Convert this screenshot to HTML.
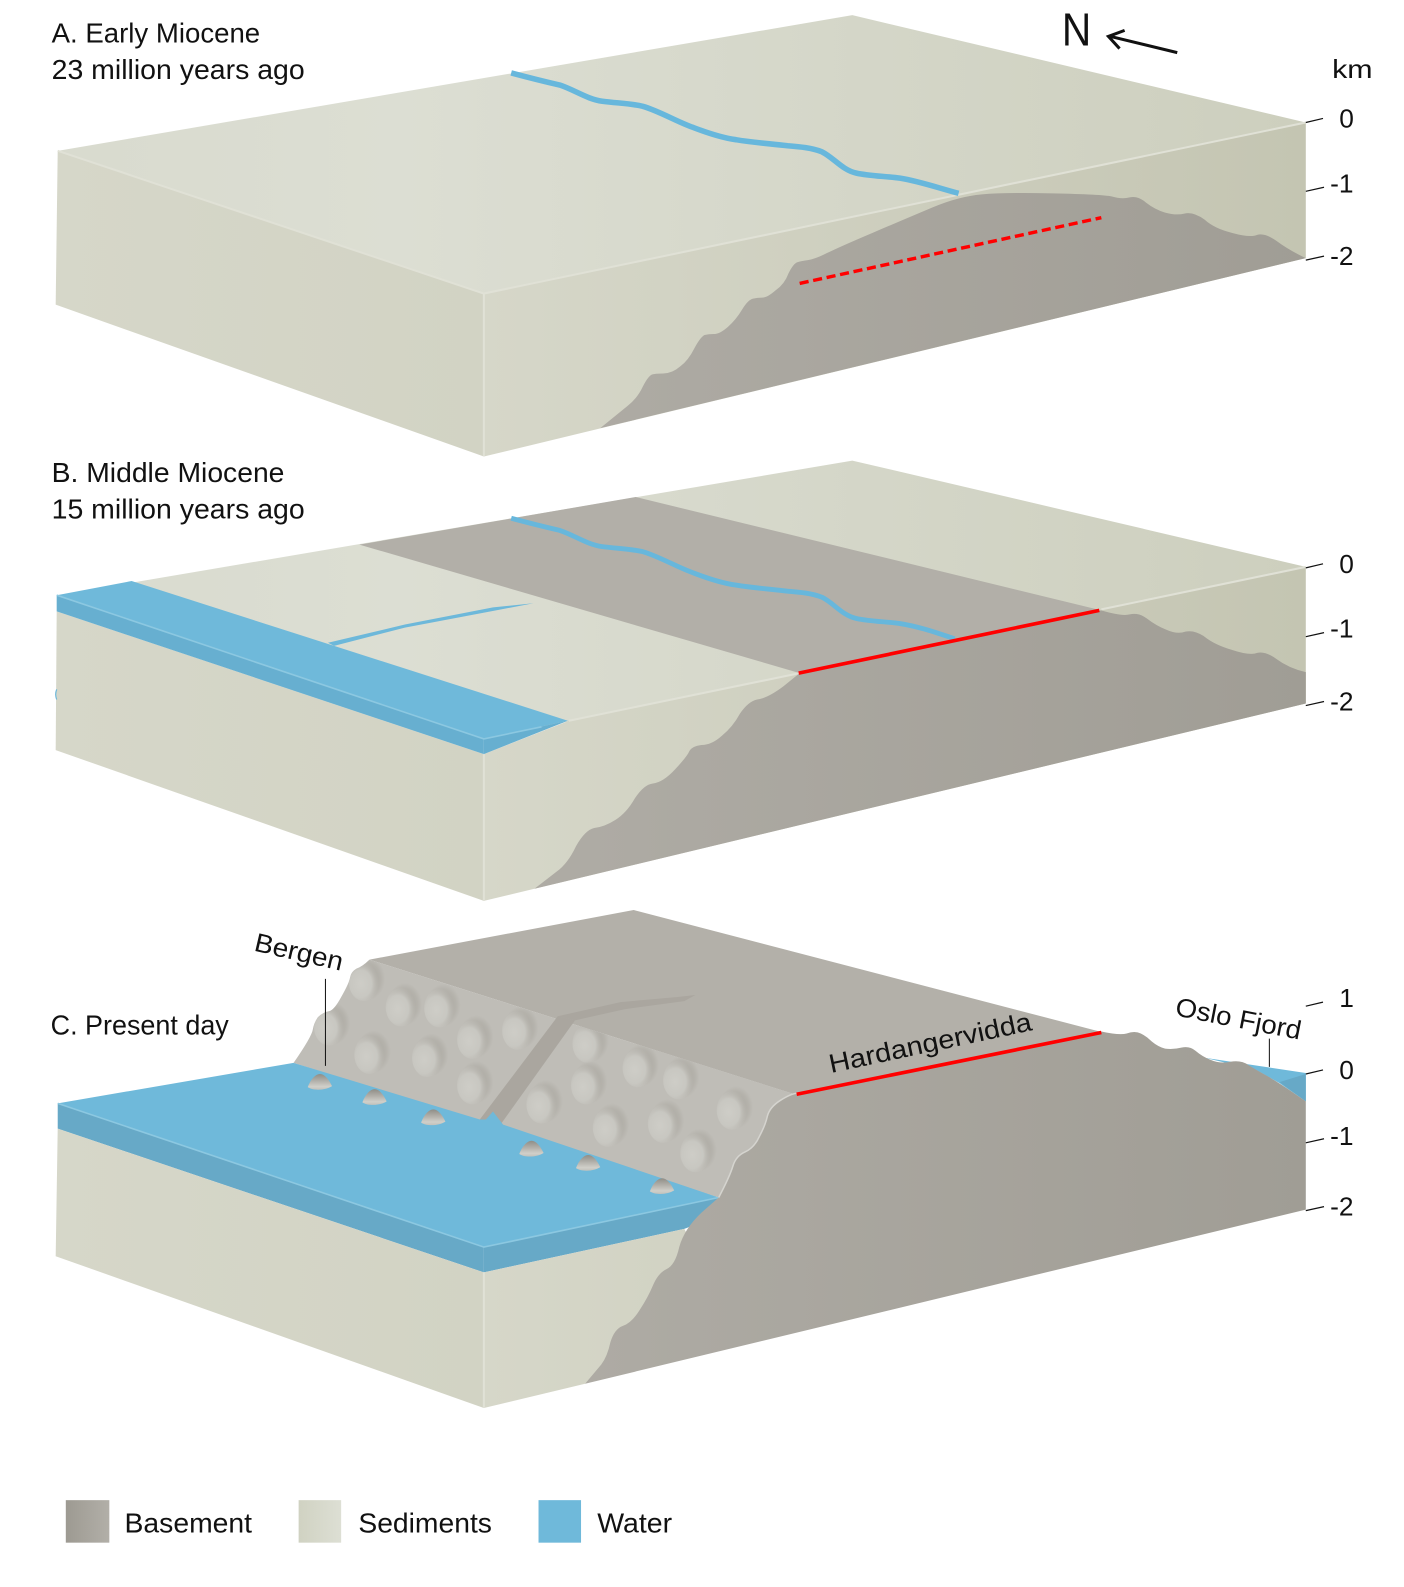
<!DOCTYPE html>
<html><head><meta charset="utf-8"><style>html,body{margin:0;padding:0;background:#fff}svg{display:block}text{font-family:"Liberation Sans",sans-serif;fill:#111}</style></head><body>
<svg xmlns="http://www.w3.org/2000/svg" width="1404" height="1587" viewBox="0 0 1387 1567.8">
<defs>
<linearGradient id="top" gradientUnits="userSpaceOnUse" x1="100" y1="0" x2="1280" y2="0"><stop offset="0" stop-color="#d9dbcf"/><stop offset=".25" stop-color="#dcded3"/><stop offset="1" stop-color="#cdcfbe"/></linearGradient>
<linearGradient id="rf" gradientUnits="userSpaceOnUse" x1="478" y1="0" x2="1290" y2="0"><stop offset="0" stop-color="#d6d7c9"/><stop offset="1" stop-color="#c4c5b2"/></linearGradient>
<linearGradient id="lf" gradientUnits="userSpaceOnUse" x1="55" y1="0" x2="478" y2="0"><stop offset="0" stop-color="#d6d7c9"/><stop offset="1" stop-color="#d2d3c4"/></linearGradient>
<linearGradient id="bs" gradientUnits="userSpaceOnUse" x1="580" y1="0" x2="1290" y2="0"><stop offset="0" stop-color="#aeaba4"/><stop offset="1" stop-color="#a09d95"/></linearGradient>
<linearGradient id="lgb" x1="0" x2="1" y1="0" y2="0"><stop offset="0" stop-color="#9d9a92"/><stop offset="1" stop-color="#b2afa8"/></linearGradient>
<linearGradient id="lgs" x1="0" x2="1" y1="0" y2="0"><stop offset="0" stop-color="#d0d2c2"/><stop offset="1" stop-color="#dddfd4"/></linearGradient>
<radialGradient id="bump" cx=".4" cy=".55" r=".6"><stop offset="0" stop-color="#cecdc7"/><stop offset=".6" stop-color="#c8c7c1"/><stop offset="1" stop-color="#bfbdb7" stop-opacity="0"/></radialGradient>
<radialGradient id="sh"><stop offset=".4" stop-color="#a3a098" stop-opacity=".6"/><stop offset=".75" stop-color="#a3a098" stop-opacity=".35"/><stop offset="1" stop-color="#a3a098" stop-opacity="0"/></radialGradient>
<linearGradient id="isl" x1="0" x2="0" y1="0" y2="1"><stop offset="0" stop-color="#8f8d86"/><stop offset=".45" stop-color="#b3b1ab"/><stop offset=".8" stop-color="#d0cfc9"/><stop offset="1" stop-color="#c2c1bb"/></linearGradient>
<clipPath id="sl"><path d="M290 1050Q308 1024 309 1017Q310 1011 314 1005Q319 1000 325 999Q330 998 337 985Q345 971 346 965Q347 960 352 957Q358 955 365 948L782 1080 800 1100 730 1170 710 1183Z"/></clipPath>
<g id="b"><ellipse rx="17" ry="21" cx="4" cy="-3" fill="url(#sh)"/><ellipse rx="15" ry="19" fill="url(#bump)"/></g>
<path id="i" d="M-12 4C-9-4-4-9 0-9 5-9 9-3 12 3 6 7-6 8-12 4Z" fill="url(#isl)"/>
</defs>

<!-- PANEL A -->
<polygon points="57,149 842,15 1290,121 478,290" fill="url(#top)"/>
<polygon points="57,149 478,290 478,451 55,301" fill="url(#lf)"/>
<polygon points="478,290 1290,121 1290,255 478,451" fill="url(#rf)"/>
<path d="M57 149L478 290L1290 121M478 290V451" fill="none" stroke="#e0e1d6" stroke-width="2"/>
<path d="M593 423L620 401Q630 393 635 382Q640 372 644 370Q647 369 655 369Q664 369 672 362Q680 356 686 344Q692 333 696 331Q700 330 705 330Q711 330 719 323Q727 316 733 306Q739 296 744 295Q748 294 753 294Q758 294 766 287Q775 281 779 270Q784 260 788 259Q791 258 798 257Q805 256 817 250Q829 244 862 230Q895 216 921 205Q947 194 970 192Q994 190 1040 191Q1089 192 1098 194Q1108 197 1116 195Q1124 193 1132 200Q1141 207 1151 210Q1162 213 1170 211Q1179 209 1190 217Q1200 226 1217 230Q1235 235 1242 232Q1250 230 1261 238Q1273 247 1290 255Z" fill="url(#bs)"/>
<path d="M505 72C520 76 540 81 553 84C568 89 580 98 595 100C610 102 622 102 635 105C652 110 668 120 685 126C698 131 712 136 727 138C745 141 762 142 778 144C790 145 802 146 812 150C824 156 832 168 846 171C860 174 875 174 889 176C908 179 928 186 947 191" fill="none" stroke="#67b7dc" stroke-width="5.5"/>
<line x1="790" y1="280" x2="1088" y2="215" stroke="#ff0000" stroke-width="3.4" stroke-dasharray="9 4.6"/>
<text x="51" y="42" font-size="27" textLength="206" lengthAdjust="spacingAndGlyphs">A. Early Miocene</text>
<text x="51" y="78" font-size="27" textLength="250" lengthAdjust="spacingAndGlyphs">23 million years ago</text>
<text x="1049" y="45" font-size="46" textLength="29" lengthAdjust="spacingAndGlyphs">N</text>
<path d="M1163 52L1097 36M1111 30L1095 36L1106 48" fill="none" stroke="#111" stroke-width="3"/>
<text x="1316" y="77" font-size="26" textLength="40" lengthAdjust="spacingAndGlyphs">km</text>
<g stroke="#111" stroke-width="1.2"><path d="M1290 121L1307 117M1290 189L1308 185M1290 257L1308 253"/></g>
<text x="1323" y="126" font-size="26">0</text><text x="1314" y="190" font-size="26">-1</text><text x="1314" y="262" font-size="26">-2</text>

<!-- PANEL B -->
<polygon points="57,588 842,455 1290,560 478,730" fill="url(#top)"/>
<polygon points="355,538 628,491 1088,603 790,665" fill="#b2afa8"/>
<polygon points="56,604 478,745 478,890 55,741" fill="url(#lf)"/>
<polygon points="478,745 562,712 1290,560 1290,695 478,890" fill="url(#rf)"/>
<path d="M478 745V890M562 712L790 665M1088 602L1290 560" fill="none" stroke="#e0e1d6" stroke-width="2"/>
<path d="M528 878L550 861Q561 853 569 836Q578 820 587 818Q597 817 608 810Q619 803 627 789Q636 775 645 774Q655 773 667 760Q679 747 681 742Q684 737 693 736Q703 736 713 727Q724 718 731 705Q739 693 748 691Q758 690 774 678L790 665L1088 603Q1108 609 1116 607Q1125 605 1133 611Q1142 618 1152 622Q1163 627 1171 624Q1180 622 1190 629Q1200 637 1217 642Q1235 648 1242 645Q1250 643 1261 651Q1273 660 1290 664V695Z" fill="url(#bs)"/>
<polygon points="56,588 130,574 561,712 478,730" fill="#6fb9da"/>
<polygon points="56,588 478,730 478,745 56,604" fill="#67afd0"/>
<polygon points="478,730 561,712 478,745" fill="#67afd0"/>
<path d="M56 588L478 730L535 718" fill="none" stroke="#8cc8e1" stroke-width="1.6"/>
<polygon points="324,635 400,617 487,600 527,596 490,603 400,620 330,638" fill="#6db8da"/>
<path d="M505 512C520 516 540 521 553 524C568 529 580 538 595 540C610 542 622 542 635 545C652 550 668 560 685 566C698 571 712 576 727 578C745 581 762 582 778 584C790 585 802 586 812 590C824 596 832 608 846 611C860 614 875 614 889 616C908 619 925 625 943 631" fill="none" stroke="#67b7dc" stroke-width="4.8"/>
<line x1="789" y1="665" x2="1086" y2="603" stroke="#ff0000" stroke-width="3.6"/>
<path d="M56 681Q54 686 56 691" fill="none" stroke="#6fb9da" stroke-width="1.2"/>
<text x="51" y="476" font-size="27" textLength="230" lengthAdjust="spacingAndGlyphs">B. Middle Miocene</text>
<text x="51" y="512" font-size="27" textLength="250" lengthAdjust="spacingAndGlyphs">15 million years ago</text>
<g stroke="#111" stroke-width="1.2"><path d="M1290 561L1307 557M1290 629L1308 625M1290 697L1308 693"/></g>
<text x="1323" y="566" font-size="26">0</text><text x="1314" y="630" font-size="26">-1</text><text x="1314" y="702" font-size="26">-2</text>

<!-- PANEL C -->
<polygon points="365,948 626,899 1090,1020 1090,1040 788,1082" fill="#b3b0a9"/>
<path d="M290 1050Q308 1024 309 1017Q310 1011 314 1005Q319 1000 325 999Q330 998 337 985Q345 971 346 965Q347 960 352 957Q358 955 365 948L782 1080 800 1100 730 1170 710 1183Z" fill="#bfbdb7"/>
<polygon points="551,1004 568,1008 493,1113 474,1106" fill="#aaa69f"/>
<polygon points="551,1004 613,990 668,985 687,983 676,989 617,997 568,1008" fill="#aaa69f"/>
<g clip-path="url(#sl)">
<use href="#b" x="359.5" y="970"/><use href="#b" x="325" y="1014"/><use href="#b" x="396" y="995"/><use href="#b" x="434" y="996"/><use href="#b" x="365" y="1042"/><use href="#b" x="422" y="1045"/><use href="#b" x="466.5" y="1027"/><use href="#b" x="511" y="1018"/><use href="#b" x="466.5" y="1072"/>
<use href="#b" x="580.5" y="1031"/><use href="#b" x="630" y="1055"/><use href="#b" x="670" y="1067"/><use href="#b" x="579" y="1072"/><use href="#b" x="535" y="1091"/><use href="#b" x="600.6" y="1114"/><use href="#b" x="655" y="1110"/><use href="#b" x="723" y="1097"/><use href="#b" x="687" y="1139"/>
</g>
<polygon points="57,1090 290,1050 474,1106 480,1106 487,1098 497,1111 710,1183 478,1232" fill="#6fb9da"/>
<polygon points="57,1090 478,1232 478,1257 57,1115" fill="#67a9c7"/>
<polygon points="478,1232 710,1183 700,1205 676,1214 478,1257" fill="#67a9c7"/>
<path d="M57 1090L478 1232L710 1183" fill="none" stroke="#8cc8e1" stroke-width="1.6"/>
<use href="#i" x="316" y="1070"/><use href="#i" x="370" y="1085"/><use href="#i" x="428" y="1105"/><use href="#i" x="525" y="1136"/><use href="#i" x="581" y="1150"/><use href="#i" x="654" y="1173"/>
<polygon points="57,1115 478,1257 478,1391 55,1241" fill="url(#lf)"/>
<polygon points="478,1257 676,1214 690,1240 640,1320 578,1367 478,1391" fill="url(#rf)"/>
<polygon points="1190,1045 1290,1060 1290,1088 1264,1070 1241,1057" fill="#6fb9da"/>
<polygon points="1264,1069 1290,1061 1290,1088" fill="#67a9c7"/>
<path d="M578 1367L594 1348Q600 1340 603 1326Q607 1313 615 1310Q624 1307 632 1294Q640 1282 645 1270Q650 1258 658 1254Q667 1250 671 1232Q676 1214 693 1198L710 1183Q721 1162 724 1152Q727 1142 736 1138Q745 1134 750 1123Q756 1112 758 1103Q760 1094 771 1087Q782 1080 788 1080L1088 1019Q1106 1023 1113 1021Q1121 1018 1127 1021Q1133 1024 1138 1029Q1144 1034 1151 1036Q1159 1037 1167 1035Q1175 1033 1181 1038Q1188 1044 1196 1047Q1205 1051 1215 1049Q1226 1047 1233 1052Q1241 1057 1252 1063Q1264 1070 1277 1079L1290 1088V1195Z" fill="url(#bs)"/>
<path d="M710 1183Q721 1162 724 1152Q727 1142 736 1138Q745 1134 750 1123Q756 1112 758 1103Q760 1094 771 1087Q782 1080 788 1080" fill="none" stroke="#d5d4cf" stroke-width="1.5"/>
<path d="M478 1257V1391" fill="none" stroke="#e0e1d6" stroke-width="2"/>
<line x1="787" y1="1081" x2="1088" y2="1020" stroke="#ff0000" stroke-width="3.6"/>
<path d="M321.5 967V1053M1254 1026V1054" stroke="#111" stroke-width="1"/>
<text x="50" y="1022" font-size="27" textLength="176" lengthAdjust="spacingAndGlyphs">C. Present day</text>
<text transform="translate(250,939) rotate(13)" font-size="26" textLength="89" lengthAdjust="spacingAndGlyphs">Bergen</text>
<text transform="translate(1160,1003) rotate(11)" font-size="26" textLength="126" lengthAdjust="spacingAndGlyphs">Oslo Fjord</text>
<text transform="translate(821,1060) rotate(-12)" font-size="26" textLength="204" lengthAdjust="spacingAndGlyphs">Hardangervidda</text>
<g stroke="#111" stroke-width="1.2"><path d="M1290 994L1307 990M1290 1061L1307 1057M1290 1129L1308 1125M1290 1196L1308 1192"/></g>
<text x="1323" y="995" font-size="26">1</text><text x="1323" y="1066" font-size="26">0</text><text x="1314" y="1131" font-size="26">-1</text><text x="1314" y="1201" font-size="26">-2</text>

<!-- LEGEND -->
<rect x="65" y="1482" width="43" height="42" fill="url(#lgb)"/>
<rect x="295" y="1482" width="42" height="42" fill="url(#lgs)"/>
<rect x="532" y="1482" width="42" height="42" fill="#6fb9da"/>
<text x="123" y="1514" font-size="27" textLength="126" lengthAdjust="spacingAndGlyphs">Basement</text>
<text x="354" y="1514" font-size="27" textLength="132" lengthAdjust="spacingAndGlyphs">Sediments</text>
<text x="590" y="1514" font-size="27" textLength="74" lengthAdjust="spacingAndGlyphs">Water</text>
</svg>
</body></html>
